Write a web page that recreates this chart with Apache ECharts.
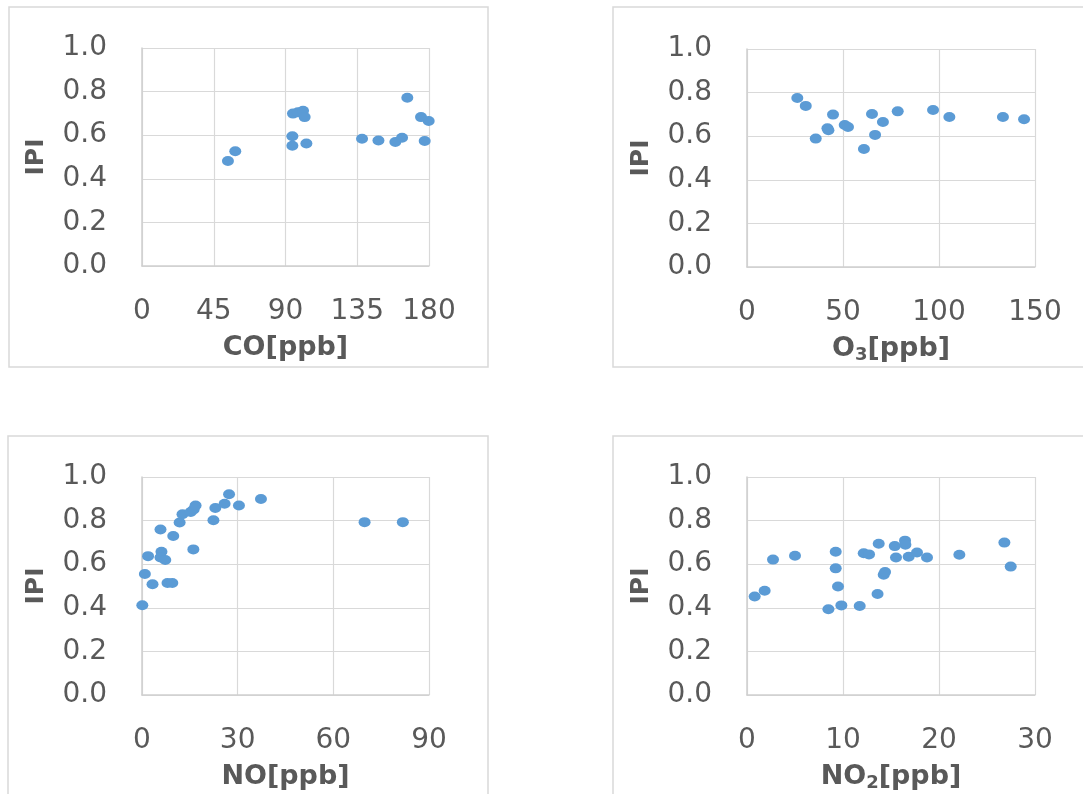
<!DOCTYPE html>
<html>
<head>
<meta charset="utf-8">
<script src="https://cdn.jsdelivr.net/npm/echarts@6/dist/echarts.min.js"></script>
<style>
  html, body { margin: 0; padding: 0; background: #ffffff; }
  #chart { width: 1083px; height: 794px; }
</style>
</head>
<body>
<div id="chart"></div>
<script>
// IPI against trace-gas concentration, one scatter panel per gas

const yTickLabels = ['0.0', '0.2', '0.4', '0.6', '0.8', '1.0'];

const coPpb = [53.9, 58.5, 94.7, 97.8, 101, 102, 94.3, 94.3, 103.1, 138, 148.3, 158.9, 163.1, 166.4, 175, 179.8, 177.3];
const coIpi = [0.482, 0.526, 0.699, 0.705, 0.712, 0.683, 0.595, 0.552, 0.562, 0.584, 0.576, 0.569, 0.588, 0.772, 0.683, 0.665, 0.573];

const o3Ppb = [26.2, 30.6, 35.8, 41.9, 42.4, 44.8, 50.9, 52.6, 60.9, 65.1, 66.7, 70.8, 78.5, 96.9, 105.4, 133.3, 144.3];
const o3Ipi = [0.775, 0.739, 0.589, 0.636, 0.627, 0.699, 0.651, 0.642, 0.541, 0.702, 0.606, 0.665, 0.714, 0.720, 0.688, 0.688, 0.678];

const noPpb = [0.1, 0.9, 1.9, 3.3, 5.8, 6.1, 5.8, 7.3, 8.0, 9.5, 9.8, 11.8, 12.7, 15.3, 16.2, 16.8, 16.1, 22.4, 23.0, 25.9, 27.3, 30.4, 37.3, 69.8, 81.8];
const noIpi = [0.412, 0.555, 0.637, 0.508, 0.759, 0.657, 0.631, 0.619, 0.514, 0.514, 0.729, 0.791, 0.829, 0.840, 0.851, 0.869, 0.668, 0.802, 0.858, 0.877, 0.921, 0.869, 0.899, 0.793, 0.793];

const no2Ppb = [0.8, 1.84, 2.71, 5.0, 8.48, 9.24, 9.24, 9.48, 9.83, 11.74, 12.16, 12.71, 13.6, 13.72, 14.24, 14.38, 15.39, 15.52, 16.46, 16.5, 16.84, 17.71, 18.75, 22.12, 26.81, 27.47];
const no2Ipi = [0.452, 0.478, 0.621, 0.639, 0.393, 0.657, 0.581, 0.498, 0.411, 0.408, 0.650, 0.645, 0.463, 0.694, 0.552, 0.564, 0.683, 0.631, 0.708, 0.689, 0.634, 0.654, 0.631, 0.643, 0.699, 0.589];

// axis titles as rich text so the formula digit can sit as a subscript
const panels = [
  { name: '{m|CO[ppb]}',          x: coPpb,  y: coIpi,  max: 180, step: 45 },
  { name: '{m|O}{s|3}{m|[ppb]}',  x: o3Ppb,  y: o3Ipi,  max: 150, step: 50 },
  { name: '{m|NO[ppb]}',          x: noPpb,  y: noIpi,  max: 90,  step: 30 },
  { name: '{m|NO}{s|2}{m|[ppb]}', x: no2Ppb, y: no2Ipi, max: 30,  step: 10 }
];

const gridBoxes = [
  { left: 142, top: 48,  width: 287, height: 218 },
  { left: 747, top: 49,  width: 288, height: 218 },
  { left: 142, top: 477, width: 287, height: 218 },
  { left: 747, top: 477, width: 288, height: 218 }
];

const frames = [
  { x: 9,   y: 7,   width: 479, height: 360 },
  { x: 613, y: 7,   width: 480, height: 360 },
  { x: 8,   y: 436, width: 480, height: 370 },
  { x: 613, y: 436, width: 480, height: 370 }
];

const textColor = '#595959';
const gridColor = '#D9D9D9';
const dotColor = '#5B9BD5';
const font = 'DejaVu Sans';

const option = {
  backgroundColor: '#ffffff',
  animation: false,
  graphic: frames.map(f => ({
    type: 'rect',
    silent: true,
    shape: f,
    style: { fill: 'none', stroke: '#D9D9D9', lineWidth: 1.5 }
  })),
  grid: gridBoxes.map(g => Object.assign({ containLabel: false }, g)),
  xAxis: panels.map((p, i) => ({
    type: 'value',
    gridIndex: i,
    min: 0,
    max: p.max,
    interval: p.step,
    name: p.name,
    nameLocation: 'middle',
    nameGap: 67,
    nameTextStyle: {
      fontFamily: font, fontWeight: 'bold', fontSize: 27, color: textColor,
      rich: {
        m: { fontFamily: font, fontWeight: 'bold', fontSize: 27, color: textColor, lineHeight: 30 },
        s: { fontFamily: font, fontWeight: 'bold', fontSize: 18, color: textColor, lineHeight: 10, verticalAlign: 'bottom' }
      }
    },
    axisLine: { show: true, lineStyle: { color: '#CFCFCF', width: 1.5 } },
    axisTick: { show: false },
    axisLabel: { fontFamily: font, fontSize: 28, color: textColor, margin: 32 },
    splitLine: { show: true, lineStyle: { color: gridColor, width: 1.2 } }
  })),
  yAxis: panels.map((p, i) => ({
    type: 'value',
    gridIndex: i,
    min: 0,
    max: 1,
    interval: 0.2,
    name: 'IPI',
    nameLocation: 'middle',
    nameRotate: 90,
    nameGap: 93,
    nameTextStyle: { fontFamily: font, fontWeight: 'bold', fontSize: 25, color: textColor },
    axisLine: { show: true, lineStyle: { color: '#CFCFCF', width: 1.5 } },
    axisTick: { show: false },
    axisLabel: {
      fontFamily: font, fontSize: 28, color: textColor, margin: 35,
      formatter: v => yTickLabels[Math.round(v / 0.2)]
    },
    splitLine: { show: true, lineStyle: { color: gridColor, width: 1.2 } }
  })),
  series: panels.map((p, i) => ({
    type: 'scatter',
    xAxisIndex: i,
    yAxisIndex: i,
    symbol: 'circle',
    symbolSize: [12, 10],
    itemStyle: { color: dotColor, opacity: 1 },
    data: p.x.map((v, k) => [v, p.y[k]])
  }))
};

const chart = echarts.init(document.getElementById('chart'), null, { renderer: 'canvas' });
chart.setOption(option);
</script>
</body>
</html>
